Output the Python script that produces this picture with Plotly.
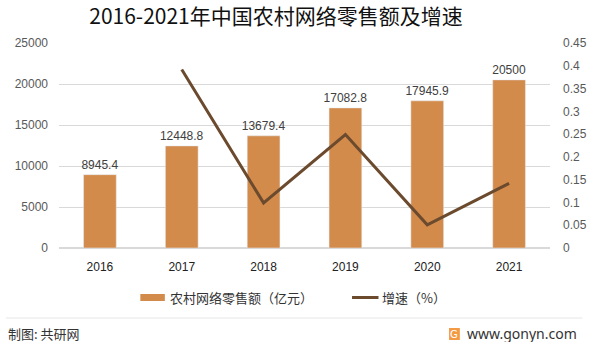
import plotly.graph_objects as go

years = ["2016", "2017", "2018", "2019", "2020", "2021"]
sales = [8945.4, 12448.8, 13679.4, 17082.8, 17945.9, 20500]
growth_years = ["2017", "2018", "2019", "2020", "2021"]
growth = [0.392, 0.099, 0.249, 0.051, 0.142]

bar_color = "#D38B4C"
line_color = "#6B4A2E"
W, H = 599, 342
L, R, T, B = 59, 560, 43, 248

def px(x):
    return (x - L) / (R - L)

def py(y):
    return (B - y) / (B - T)

fig = go.Figure()
fig.add_trace(go.Bar(
    x=years, y=sales, marker_color=bar_color, width=0.4,
    text=[f"{v:g}" for v in sales], textposition="outside", constraintext="none",
    textfont=dict(size=12, color="#404040", family="Liberation Sans, Arial"),
    cliponaxis=False, showlegend=False, yaxis="y",
))
fig.add_trace(go.Scatter(
    x=growth_years, y=growth, mode="lines",
    line=dict(color=line_color, width=3), showlegend=False, yaxis="y2",
))

cjk = "Noto Sans CJK SC"
shapes = [
    dict(type="rect", xref="paper", yref="paper", x0=px(142), x1=px(167), y0=py(301), y1=py(294),
         fillcolor=bar_color, line=dict(width=0)),
    dict(type="line", xref="paper", yref="paper", x0=px(358), x1=px(385), y0=py(297.5), y1=py(297.5),
         line=dict(color=line_color, width=3)),
    dict(type="line", xref="paper", yref="paper", x0=px(5), x1=px(593), y0=py(318), y1=py(318),
         line=dict(color="#E6E6E6", width=1)),
    dict(type="rect", xref="paper", yref="paper", x0=px(457), x1=px(468), y0=py(340), y1=py(328),
         fillcolor="#F39A45", line=dict(width=0)),
]
annotations = [
    dict(text="农村网络零售额（亿元）", xref="paper", yref="paper", x=px(170), y=py(297.5),
         xanchor="left", yanchor="middle", showarrow=False,
         font=dict(size=13, color="#333333", family=cjk)),
    dict(text="增速（%）", xref="paper", yref="paper", x=px(387), y=py(297.5),
         xanchor="left", yanchor="middle", showarrow=False,
         font=dict(size=13, color="#333333", family=cjk)),
    dict(text="制图: 共研网", xref="paper", yref="paper", x=px(5), y=py(333),
         xanchor="left", yanchor="middle", showarrow=False,
         font=dict(size=13, color="#333333", family=cjk)),
    dict(text="G", xref="paper", yref="paper", x=px(462.5), y=py(334),
         xanchor="center", yanchor="middle", showarrow=False,
         font=dict(size=10, color="white", family="DejaVu Sans")),
    dict(text="www.gonyn.com", xref="paper", yref="paper", x=px(590), y=py(333),
         xanchor="right", yanchor="middle", showarrow=False,
         font=dict(size=14, color="#333333", family="Noto Sans")),
]

fig.update_layout(
    width=W, height=H,
    margin=dict(l=L, r=W - R, t=T, b=H - B, pad=0),
    paper_bgcolor="white", plot_bgcolor="white",
    title=dict(text="2016-2021年中国农村网络零售额及增速", x=276 / W, y=1 - 17 / H,
               xanchor="center", yanchor="middle", xref="container", yref="container",
               font=dict(size=21, color="#111111", family=cjk)),
    bargap=0.6,
    xaxis=dict(type="category", showgrid=False, showline=False, ticks="",
               ticklabelstandoff=10,
               tickfont=dict(size=12, color="#222222", family="Liberation Sans, Arial")),
    yaxis=dict(range=[0, 25000], dtick=5000, showgrid=True, gridcolor="#D9D9D9", gridwidth=1,
               zeroline=True, zerolinecolor="#D9D9D9", showline=False, ticks="",
               ticklabelstandoff=10, tickformat="d",
               tickfont=dict(size=12, color="#595959", family="Liberation Sans, Arial")),
    yaxis2=dict(range=[0, 0.45], dtick=0.05, overlaying="y", side="right", showgrid=False,
                zeroline=False, showline=False, ticks="", ticklabelstandoff=12,
                tickformat="~g",
                tickfont=dict(size=12, color="#595959", family="Liberation Sans, Arial")),
    shapes=shapes, annotations=annotations,
)

fig.write_html("out.html")
